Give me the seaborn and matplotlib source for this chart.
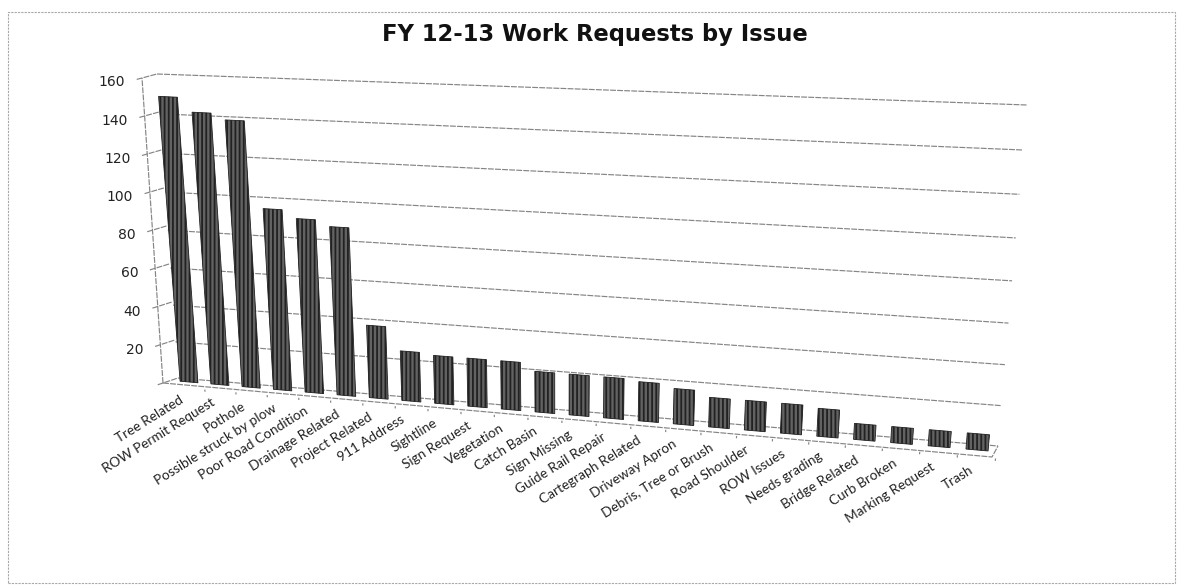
import numpy as np
import pandas as pd
import matplotlib
matplotlib.use("Agg")
import matplotlib.pyplot as plt
from matplotlib.transforms import Transform, Affine2D
from matplotlib.patches import Rectangle
import seaborn as sns

categories = ["Tree Related", "ROW Permit Request", "Pothole", "Possible struck by plow",
              "Poor Road Condition", "Drainage Related", "Project Related", "911 Address",
              "Sightline", "Sign Request", "Vegetation", "Catch Basin", "Sign Missing",
              "Guide Rail Repair", "Cartegraph Related", "Driveway Apron", "Debris, Tree or Brush",
              "Road Shoulder", "ROW Issues", "Needs grading", "Bridge Related", "Curb Broken",
              "Marking Request", "Trash"]
values = [147, 140, 137, 94, 90, 87, 38, 26, 25, 25, 25, 21, 21, 21, 20, 18, 15, 15, 15, 14, 8, 8, 8, 8]
y_ticks = [20, 40, 60, 80, 100, 120, 140, 160]
title = "FY 12-13 Work Requests by Issue"

W, H = 1183, 586


class Homography(Transform):
    input_dims = 2
    output_dims = 2
    is_separable = False
    has_inverse = False

    def __init__(self, src, dst):
        super().__init__()
        A, b = [], []
        for (u, v), (x, y) in zip(src, dst):
            A.append([u, v, 1, 0, 0, 0, -u * x, -v * x]); b.append(x)
            A.append([0, 0, 0, u, v, 1, -u * y, -v * y]); b.append(y)
        self.m = np.append(np.linalg.solve(np.array(A, float), np.array(b, float)), 1).reshape(3, 3)

    def transform_non_affine(self, values):
        v = np.asarray(values, float)
        p = np.c_[v, np.ones(len(v))] @ self.m.T
        return p[:, :2] / p[:, 2:3]


sns.set_theme(style="white")
plt.rcParams["font.family"] = ["Lato", "DejaVu Sans"]
plt.rcParams["hatch.linewidth"] = 1.3

fig = plt.figure(figsize=(W / 100, H / 100), dpi=100, facecolor="white")
ax = fig.add_axes([0, 0, 1, 1])
ax.set_axis_off()
pixel = Affine2D().scale(1 / W, -1 / H).translate(0, 1) + fig.transFigure

# planes of the pseudo-3D chart
n = len(categories)
bar_plane = Homography([(0, 0), (n - 1, 0), (0, 160), (n - 1, 160)],
                       [(189, 382), (977, 450), (166, 70), (1006, 105)]) + pixel
back_wall = Homography([(0, 0), (1, 0), (0, 160), (1, 160)],
                       [(178, 378), (998, 446), (157, 74), (1027, 105)]) + pixel
side_wall = Homography([(0, 0), (1, 0), (0, 160), (1, 160)],
                       [(163, 383), (178, 378), (142, 78), (157, 74)]) + pixel

df = pd.DataFrame({"issue": categories, "count": values})
sns.barplot(data=df, x="issue", y="count", ax=ax, color="#8c8c8c", width=0.58,
            saturation=1, errorbar=None)
ax.set_axis_off()
for bar in ax.patches:
    bar.set_transform(bar_plane)
    bar.set_clip_on(False)
    bar.set_facecolor("#626262")
    bar.set_edgecolor("#222222")
    bar.set_hatch("||||")
    bar.set_linewidth(0.6)
    bar.set_zorder(3)

grid = dict(color="#858585", lw=0.85, zorder=1, clip_on=False, ls=(0, (5, 1)))
for v in [0] + y_ticks:
    ax.plot([0, 1], [v, v], transform=back_wall, **grid)
    ax.plot([-0.35, 0, 1], [v, v, v], transform=side_wall, **grid)
ax.plot([0, 0], [0, 160], transform=side_wall, **grid)
# floor front edge with category ticks
ax.plot([163, 992, 998], [383, 457, 446], transform=pixel, **grid)
for i in range(n):
    ax.plot([i + 0.5, i + 0.5], [-3.4, -4.6], transform=bar_plane, **grid)

for v in y_ticks:
    ax.text(-1.1, v, str(v), transform=side_wall, ha="right", va="center",
            fontsize=10, color="#222222", family="DejaVu Sans")

for i, name in enumerate(categories):
    ax.text(i - 0.25 + 0.15 * max(0, i - 12) / 11, -9.6, name, transform=bar_plane,
            rotation=32, rotation_mode="anchor",
            ha="right", va="center", fontsize=9.8, color="#222222", clip_on=False)

fig.text(595 / W, 1 - 34 / H, title, ha="center", va="center", fontsize=16.3,
         fontweight="bold", color="#111111", family="DejaVu Sans")
fig.add_artist(Rectangle((8 / W, 1 - 583 / H), (1175 - 8) / W, (583 - 12) / H,
                         transform=fig.transFigure, fill=False, ec="#a8a8a8", lw=0.8,
                         ls=(0, (2, 1))))
ax.set_xlim(-1, n)
ax.set_ylim(0, 160)
fig.savefig("out.png", dpi=100, facecolor="white")
